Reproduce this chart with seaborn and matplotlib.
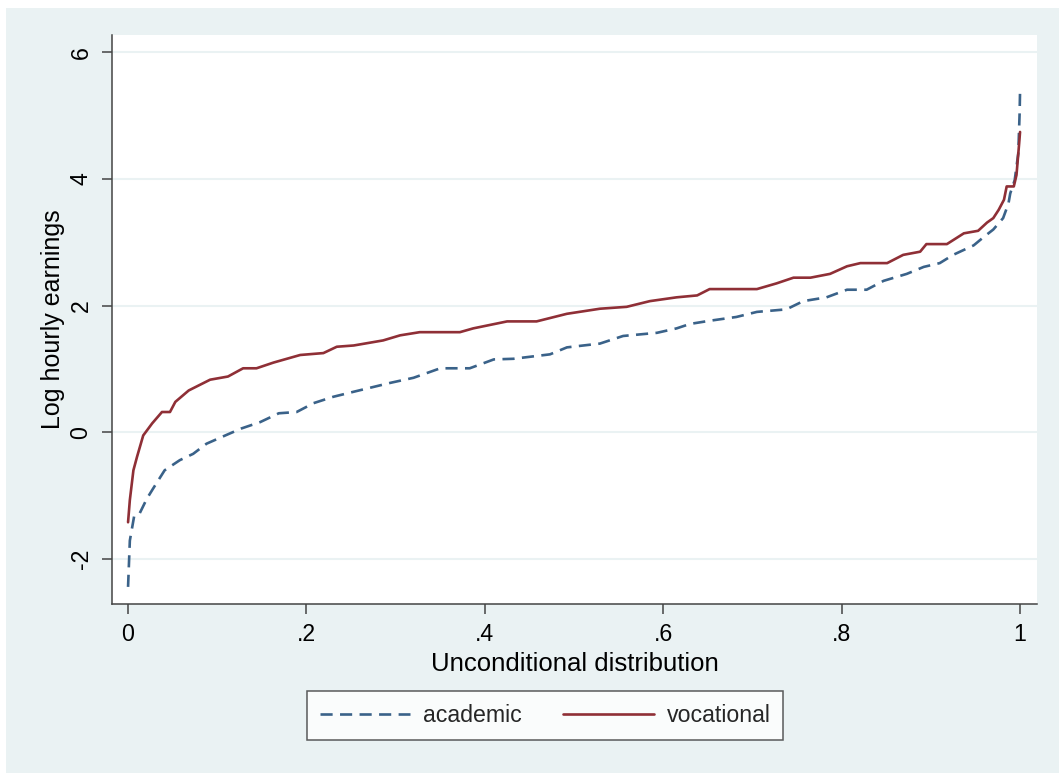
import matplotlib
matplotlib.use("Agg")
import matplotlib.pyplot as plt
import seaborn as sns
import pandas as pd
from matplotlib.lines import Line2D
from matplotlib.patches import Rectangle

# ---- data ----
voc_q = [0.0, 0.002, 0.006, 0.010, 0.017, 0.027, 0.038, 0.047, 0.053, 0.068,
         0.092, 0.112, 0.129, 0.144, 0.163, 0.193, 0.219, 0.234, 0.253, 0.286,
         0.305, 0.327, 0.372, 0.387, 0.425, 0.458, 0.492, 0.529, 0.559, 0.585,
         0.615, 0.638, 0.652, 0.705, 0.727, 0.746, 0.765, 0.787, 0.806, 0.821,
         0.851, 0.869, 0.888, 0.895, 0.918, 0.937, 0.953, 0.963, 0.970, 0.976,
         0.982, 0.985, 0.993, 0.996, 0.999, 1.0]
voc_y = [-1.42, -1.07, -0.60, -0.39, -0.05, 0.14, 0.32, 0.32, 0.48, 0.66,
         0.83, 0.88, 1.01, 1.01, 1.10, 1.22, 1.25, 1.35, 1.37, 1.45,
         1.53, 1.58, 1.58, 1.64, 1.75, 1.75, 1.87, 1.95, 1.98, 2.07,
         2.13, 2.16, 2.26, 2.26, 2.35, 2.44, 2.44, 2.50, 2.62, 2.67,
         2.67, 2.80, 2.85, 2.97, 2.97, 3.14, 3.18, 3.31, 3.38, 3.51,
         3.67, 3.88, 3.88, 4.06, 4.56, 4.74]

aca_q = [0.0, 0.002, 0.007, 0.013, 0.021, 0.028, 0.041, 0.058, 0.073, 0.088,
         0.109, 0.127, 0.148, 0.169, 0.189, 0.208, 0.230, 0.253, 0.294, 0.320,
         0.350, 0.383, 0.410, 0.432, 0.473, 0.492, 0.529, 0.555, 0.593, 0.615,
         0.630, 0.652, 0.682, 0.705, 0.738, 0.757, 0.783, 0.806, 0.828, 0.847,
         0.873, 0.892, 0.910, 0.925, 0.948, 0.960, 0.970, 0.981, 0.987, 0.989,
         0.994, 0.998, 0.9995, 1.0]
aca_y = [-2.44, -1.71, -1.31, -1.28, -1.05, -0.89, -0.60, -0.44, -0.34, -0.18,
         -0.05, 0.06, 0.16, 0.30, 0.32, 0.46, 0.56, 0.64, 0.78, 0.86,
         1.01, 1.01, 1.15, 1.16, 1.23, 1.34, 1.40, 1.52, 1.57, 1.64,
         1.71, 1.76, 1.82, 1.90, 1.94, 2.07, 2.13, 2.25, 2.25, 2.39,
         2.50, 2.61, 2.67, 2.80, 2.95, 3.09, 3.20, 3.38, 3.61, 3.77,
         3.98, 4.40, 5.03, 5.38]

series_names = ["academic", "vocational"]
x_ticks = [0, 0.2, 0.4, 0.6, 0.8, 1.0]
x_ticklabels = ["0", ".2", ".4", ".6", ".8", "1"]
y_ticks = [-2, 0, 2, 4, 6]
y_ticklabels = ["-2", "0", "2", "4", "6"]

# ---- style ----
sns.set_theme(style="white")
plt.rcParams["font.family"] = ["Liberation Sans", "DejaVu Sans"]

BG = "#EAF2F3"
BLUE = "#3A6289"
RED = "#8F2F36"

fig = plt.figure(figsize=(10.59, 7.73), dpi=100, facecolor="white")
fig.patches.append(Rectangle((6 / 1059, 0), 1, 1 - 8 / 773, transform=fig.transFigure,
                             facecolor=BG, edgecolor="none", zorder=-10))

ax = fig.add_axes([112 / 1059, 1 - 604 / 773, (1037 - 112) / 1059, (604 - 35) / 773])
ax.set_facecolor("white")

df_a = pd.DataFrame({"q": aca_q, "y": aca_y})
df_v = pd.DataFrame({"q": voc_q, "y": voc_y})

sns.lineplot(data=df_a, x="q", y="y", ax=ax, color=BLUE, lw=1.9, sort=False,
             estimator=None, zorder=3)
sns.lineplot(data=df_v, x="q", y="y", ax=ax, color=RED, lw=1.9, sort=False,
             estimator=None, zorder=4)
ax.lines[0].set_dashes([4.6, 2.8])

ax.set_xlim(-0.018, 1.019)
ax.set_ylim(-2.71, 6.27)
ax.set_xticks(x_ticks)
ax.set_xticklabels(x_ticklabels)
ax.set_yticks(y_ticks)
ax.set_yticklabels(y_ticklabels, rotation=90, va="center")

for yv in y_ticks:
    ax.axhline(yv, color=BG, lw=1.5, zorder=1)

for s in ["top", "right"]:
    ax.spines[s].set_visible(False)
for s in ["left", "bottom"]:
    ax.spines[s].set_color("#444444")
    ax.spines[s].set_linewidth(1.1)

ax.tick_params(axis="both", which="major", direction="out", length=7, width=1.1,
               color="#444444", labelsize=16.7, labelcolor="black", pad=7,
               left=True, bottom=True)

ax.set_xlabel("Unconditional distribution", fontsize=18.5, color="black", labelpad=4)
ax.set_ylabel("Log hourly earnings", fontsize=18, color="black", labelpad=3)

handles = [Line2D([], [], color=BLUE, lw=1.9, dashes=[4.6, 2.8]),
           Line2D([], [], color=RED, lw=1.9)]
leg = fig.legend(handles, series_names, loc="center",
                 bbox_to_anchor=(545 / 1059, 1 - 715.5 / 773), ncol=2,
                 fontsize=16.7, frameon=True, fancybox=False,
                 handlelength=3.9, handletextpad=0.55, columnspacing=1.8,
                 borderpad=0.55, edgecolor="#333333")
leg.get_frame().set_facecolor("white")
leg.get_frame().set_linewidth(1.1)

fig.savefig("out.png", dpi=100, facecolor=fig.get_facecolor())
